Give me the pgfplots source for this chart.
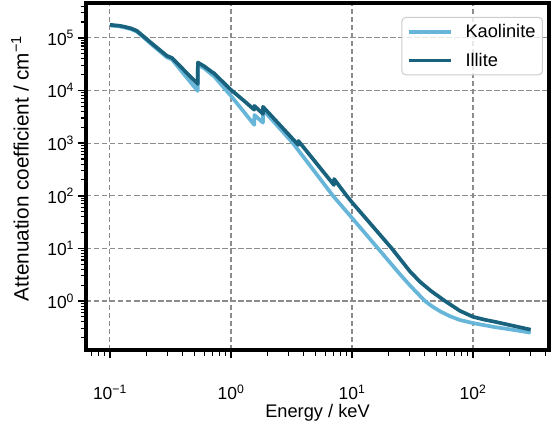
\documentclass[border=0pt]{standalone}
\usepackage{fontspec}
\setmainfont{Liberation Sans}
\usepackage{pgfplots}
\pgfplotsset{compat=1.18}
\definecolor{kao}{RGB}{103,182,217}
\definecolor{ill}{RGB}{24,98,126}
\definecolor{gridc}{RGB}{140,140,140}
\definecolor{legc}{RGB}{204,204,204}

\begin{document}
\begin{tikzpicture}
\begin{axis}[
    scale only axis,
    width=463bp, height=347bp,
    xmode=log, ymode=log,
    xmin=0.0634, xmax=425,
    ymin=0.117, ymax=4.6e5,
    tick align=outside,
    tick pos=left,
    major tick length=8.5bp,
    minor tick length=5.5bp,
    every tick/.style={black, line width=1.6bp},
    minor tick style={line width=1.1bp},
    xtick={0.1,1,10,100},
    xticklabels={10\textsuperscript{−1},10\textsuperscript{0},10\textsuperscript{1},10\textsuperscript{2}},
    minor xtick={0.07,0.08,0.09,0.2,0.3,0.4,0.5,0.6,0.7,0.8,0.9,2,3,4,5,6,7,8,9,20,30,40,50,60,70,80,90,200,300,400},
    ytick={1,10,100,1000,10000,100000},
    yticklabels={10\textsuperscript{0},10\textsuperscript{1},10\textsuperscript{2},10\textsuperscript{3},10\textsuperscript{4},10\textsuperscript{5}},
    minor ytick={0.2,0.3,0.4,0.5,0.6,0.7,0.8,0.9,2,3,4,5,6,7,8,9,20,30,40,50,60,70,80,90,200,300,400,500,600,700,800,900,2000,3000,4000,5000,6000,7000,8000,9000,20000,30000,40000,50000,60000,70000,80000,90000,200000,300000,400000},
    tick label style={font=\fontsize{17.5}{20}\selectfont},
    xticklabel style={anchor=base, yshift=-41bp},
    yticklabel style={anchor=east},
    grid=major,
    major grid style={gridc, line width=1.1bp, dash pattern=on 5.5bp off 2.5bp},
    xlabel={Energy / keV},
    ylabel={Attenuation coefficient / cm\textsuperscript{−1}},
    xlabel style={font=\fontsize{18.3}{22}\selectfont, at={(rel axis cs:0.5,0)}, anchor=base, yshift=-67bp},
    ylabel style={font=\fontsize{20.8}{24}\selectfont, at={(rel axis cs:0,0.5)}, anchor=center, yshift=66bp, xshift=8bp},
    legend style={at={(0.987,0.96)}, anchor=north east, draw=legc, line width=1bp,
        rounded corners=4bp, fill=white, fill opacity=0.8, text opacity=1,
        font=\fontsize{18.3}{22}\selectfont,
        inner xsep=5bp, inner ysep=5bp, row sep=10bp,
        nodes={inner sep=2bp},
        /tikz/every odd column/.append style={column sep=11bp}},
    legend cell align=left,
    legend image code/.code={\draw[#1, line width=3.7bp] (0bp,0bp) -- (42bp,0bp);},
]
\addplot[kao, line width=3.7bp, line join=round] coordinates {
    (0.1,1.72e5) (0.12,1.65e5) (0.133,1.57e5) (0.15,1.46e5) (0.167,1.31e5)
    (0.19,1.02e5) (0.214,8.0e4) (0.296,4.25e4) (0.325,3.9e4) (0.531,9.8e3)
    (0.533,3.07e4) (0.6,2.65e4) (0.705,1.95e4) (0.72,1.9e4) (1.0,7.9e3)
    (1.3,3.75e3) (1.558,2.22e3) (1.562,3.43e3) (1.837,2.45e3) (1.841,4.3e3)
    (3.25,1000) (5.45,210) (6.96,100) (10,38) (16.4,10) (25,3.2) (30,2.0)
    (35,1.38) (40.1,1.0) (46,0.79) (53.3,0.64) (65,0.51) (78,0.435)
    (100,0.38) (150,0.32) (200,0.29) (300,0.25)
};
\addlegendentry{Kaolinite}
\addplot[ill, line width=3.7bp, line join=round] coordinates {
    (0.1,1.77e5) (0.12,1.70e5) (0.133,1.62e5) (0.15,1.51e5) (0.167,1.36e5)
    (0.19,1.06e5) (0.214,8.4e4) (0.296,4.55e4) (0.325,4.17e4) (0.531,1.33e4)
    (0.533,3.4e4) (0.6,2.9e4) (0.705,2.2e4) (0.72,2.15e4) (1.0,1.03e4)
    (1.3,6.2e3) (1.558,4.3e3) (1.562,5.1e3) (1.837,3.6e3) (1.841,4.9e3)
    (3.6,925) (3.61,1100) (7.10,160) (7.12,208) (9.04,100) (10,75)
    (15,25.5) (21.3,10) (30,3.7) (36.4,2.33) (45,1.55) (58.7,1.0)
    (78,0.65) (100,0.50) (125,0.44) (150,0.405) (200,0.35) (300,0.285)
};
\addlegendentry{Illite}
\end{axis}
\draw[black, line width=3.2bp] (current axis.south west) rectangle (current axis.north east);
\path ([shift={(-86bp,-73bp)}]current axis.south west) rectangle ([shift={(3bp,3bp)}]current axis.north east);
\end{tikzpicture}
\end{document}
